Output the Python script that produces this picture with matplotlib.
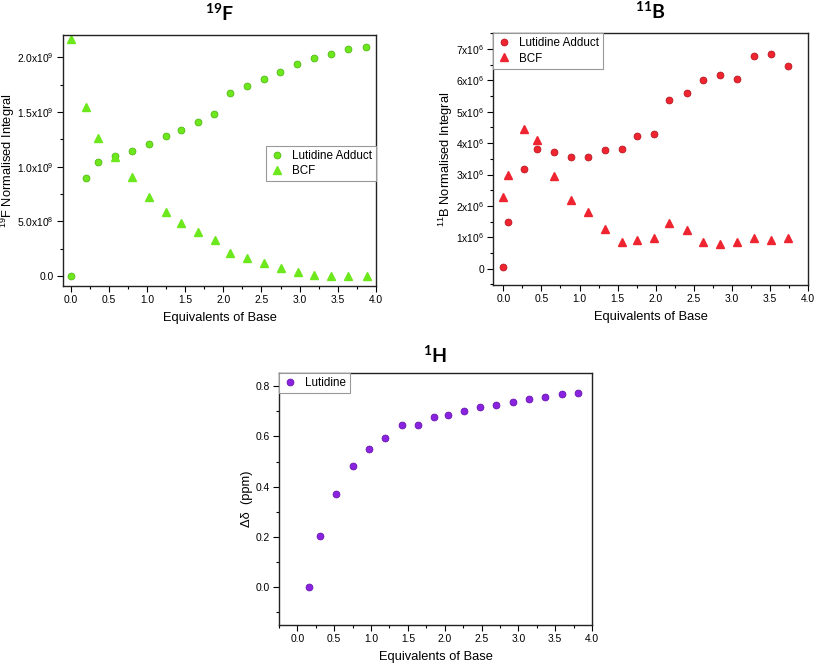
import matplotlib
matplotlib.use("Agg")
import matplotlib.pyplot as plt
from matplotlib.ticker import MultipleLocator

plt.rcParams['font.family'] = ['Liberation Sans', 'DejaVu Sans']
plt.rcParams['mathtext.default'] = 'regular'

# ---- 19F data ----
f_adduct_x = [0.0, 0.196, 0.353, 0.58, 0.798, 1.02, 1.243, 1.444, 1.67, 1.884, 2.085, 2.307, 2.53, 2.748, 2.966, 3.19, 3.407, 3.634, 3.873]
f_adduct_y = [0.0, 0.90, 1.043, 1.095, 1.143, 1.204, 1.28, 1.332, 1.41, 1.485, 1.674, 1.741, 1.805, 1.869, 1.942, 1.997, 2.03, 2.076, 2.098]
f_bcf_x = [0.0, 0.2, 0.358, 0.585, 0.8, 1.025, 1.243, 1.448, 1.67, 1.89, 2.085, 2.307, 2.534, 2.75, 2.975, 3.19, 3.407, 3.634, 3.88]
f_bcf_y = [2.168, 1.543, 1.265, 1.09, 0.905, 0.726, 0.585, 0.485, 0.402, 0.332, 0.216, 0.162, 0.116, 0.076, 0.04, 0.015, 0.003, 0.0, 0.0]
f_yticks = [0.0, 0.5, 1.0, 1.5, 2.0]
f_yticklabels = ['0.0', '5.0x10$^{8}$', '1.0x10$^{9}$', '1.5x10$^{9}$', '2.0x10$^{9}$']

# ---- 11B data ----
b_adduct_x = [0.0, 0.066, 0.267, 0.447, 0.666, 0.894, 1.113, 1.336, 1.555, 1.76, 1.98, 2.177, 2.405, 2.624, 2.848, 3.07, 3.29, 3.514, 3.737]
b_adduct_y = [0.043, 1.5, 3.19, 3.82, 3.72, 3.56, 3.56, 3.79, 3.81, 4.24, 4.29, 5.38, 5.585, 6.0, 6.16, 6.05, 6.79, 6.85, 6.45]
b_bcf_x = b_adduct_x
b_bcf_y = [2.28, 2.98, 4.44, 4.1, 2.94, 2.19, 1.80, 1.255, 0.86, 0.90, 0.98, 1.44, 1.22, 0.86, 0.79, 0.86, 0.99, 0.915, 0.97]
b_yticks = [0, 1, 2, 3, 4, 5, 6, 7]
b_yticklabels = ['0'] + ['%dx10$^{6}$' % i for i in range(1, 8)]

# ---- 1H data ----
h_x = [0.154, 0.303, 0.529, 0.751, 0.977, 1.195, 1.416, 1.638, 1.86, 2.04, 2.258, 2.484, 2.70, 2.928, 3.145, 3.367, 3.588, 3.814]
h_y = [0.0, 0.205, 0.371, 0.481, 0.548, 0.595, 0.644, 0.644, 0.679, 0.685, 0.702, 0.715, 0.726, 0.738, 0.747, 0.755, 0.768, 0.771]
h_yticks = [0.0, 0.2, 0.4, 0.6, 0.8]

xticks = [0.0, 0.5, 1.0, 1.5, 2.0, 2.5, 3.0, 3.5, 4.0]

green = '#6CE81C'
red = '#EE2530'
purple = '#8A22E0'

fig = plt.figure(figsize=(8.17, 6.67), dpi=100)
W, H = 817, 667

def add_ax(l, r, t, b):
    return fig.add_axes([l / W, 1 - b / H, (r - l) / W, (b - t) / H])

ax1 = add_ax(63, 376, 35, 286)
ax2 = add_ax(493, 808, 33, 285)
ax3 = add_ax(279, 592, 373, 625)

tick_fs = 7.4
lab_fs = 9.3
leg_fs = 8.4

def style(ax):
    ax.tick_params(which='both', direction='out', labelsize=tick_fs, width=0.8, pad=2.5)
    ax.tick_params(which='major', length=4)
    ax.tick_params(which='minor', length=2)
    ax.set_xticks(xticks)
    ax.set_xticklabels(['%.1f' % v for v in xticks])
    ax.xaxis.set_minor_locator(MultipleLocator(0.25))
    for s in ax.spines.values():
        s.set_linewidth(1.0)
        s.set_color('#222222')
    ax.set_xlabel('Equivalents of Base', fontsize=lab_fs, labelpad=5)

def legend(ax, **kw):
    lg = ax.legend(borderaxespad=0, fontsize=leg_fs, fancybox=False, edgecolor='#999999',
                   framealpha=1, handlelength=1.2, handletextpad=0.7, borderpad=0.35,
                   labelspacing=0.3, **kw)
    lg.get_frame().set_linewidth(0.8)
    return lg

mk = dict(linestyle='none')
title_kw = dict(fontsize=14, fontweight='bold', family='Lato')

# Panel 1
ax1.plot(f_adduct_x, f_adduct_y, 'o', ms=5, color=green, mec='#4DB010', mew=0.5, label='Lutidine Adduct', **mk)
ax1.plot(f_bcf_x, f_bcf_y, '^', ms=5.5, color=green, mec=green, label='BCF', **mk)
ax1.set_xlim(-0.1, 4.0)
ax1.set_ylim(-0.09, 2.205)
ax1.set_yticks(f_yticks)
ax1.set_yticklabels(f_yticklabels)
ax1.yaxis.set_minor_locator(MultipleLocator(0.25))
style(ax1)
ax1.set_ylabel('$^{19}$F Normalised Integral', fontsize=lab_fs)
ax1.yaxis.set_label_coords(-0.147, 0.5)
legend(ax1, loc='center right', bbox_to_anchor=(1.0, 0.488))
ax1.set_title('$^{19}$F', pad=10, **title_kw)

# Panel 2
ax2.plot(b_adduct_x, b_adduct_y, 'o', ms=5, color=red, mec='#B01018', mew=0.5, label='Lutidine Adduct', **mk)
ax2.plot(b_bcf_x, b_bcf_y, '^', ms=5.5, color=red, mec=red, label='BCF', **mk)
ax2.set_xlim(-0.136, 4.0)
ax2.set_ylim(-0.52, 7.51)
ax2.set_yticks(b_yticks)
ax2.set_yticklabels(b_yticklabels)
ax2.yaxis.set_minor_locator(MultipleLocator(0.5))
style(ax2)
ax2.set_ylabel('$^{11}$B Normalised Integral', fontsize=lab_fs)
ax2.yaxis.set_label_coords(-0.12, 0.5)
legend(ax2, loc='upper left')
ax2.set_title('$^{11}$B', pad=10, **title_kw)

# Panel 3
ax3.plot(h_x, h_y, 'o', ms=5, color=purple, mec='#6010A8', mew=0.5, label='Lutidine', **mk)
ax3.set_xlim(-0.25, 4.0)
ax3.set_ylim(-0.15, 0.852)
ax3.set_yticks(h_yticks)
ax3.set_yticklabels(['%.1f' % v for v in h_yticks])
ax3.yaxis.set_minor_locator(MultipleLocator(0.1))
style(ax3)
ax3.set_ylabel('Δδ  (ppm)', fontsize=lab_fs)
ax3.yaxis.set_label_coords(-0.083, 0.5)
legend(ax3, loc='upper left')
ax3.set_title('$^{1}$H', pad=7, **title_kw)

fig.savefig('out.png', dpi=100)
